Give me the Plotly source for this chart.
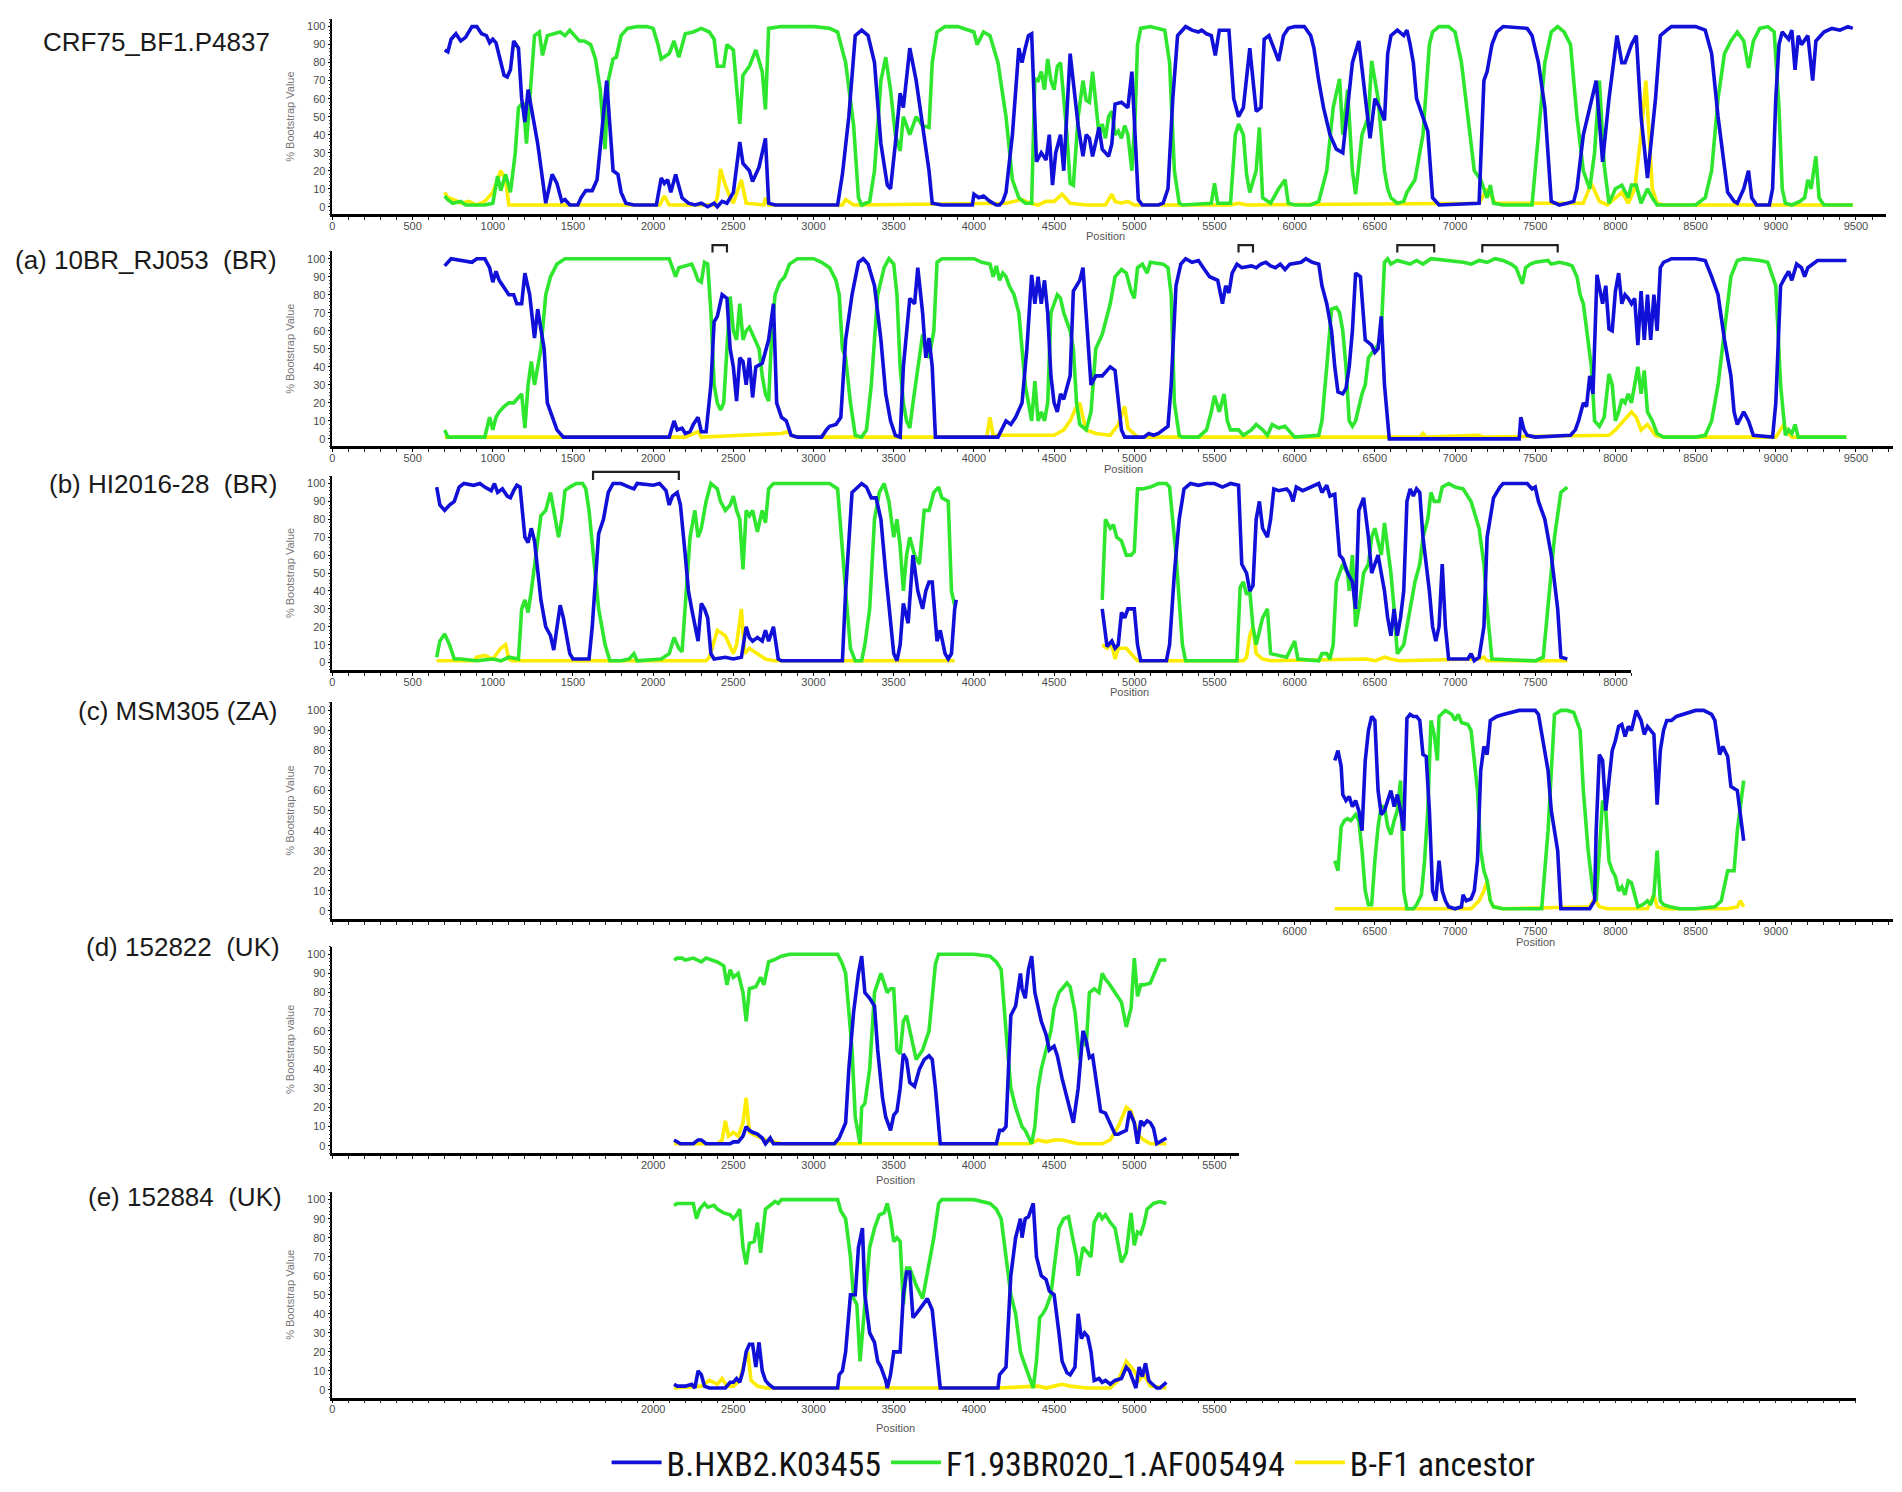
import plotly.graph_objects as go

# ---------------- data: (position, % bootstrap) ----------------
crf_B = [(700,87),(720,86),(740,93),(770,96),(800,92),(830,94),(870,100),(900,100),(930,96),(960,95),(980,91),(1000,93),(1020,91),(1050,81),(1070,73),(1090,72),(1110,76),(1130,92),(1160,88),(1180,60),(1200,47),(1220,65),(1250,50),(1280,35),(1300,22),(1330,2),(1370,18),(1400,13),(1430,3),(1450,4),(1480,1),(1530,1),(1550,5),(1580,9),(1620,9),(1650,15),(1680,42),(1710,70),(1730,45),(1750,20),(1780,18),(1800,8),(1830,2),(1880,1),(2020,1),(2050,16),(2070,13),(2090,15),(2110,8),(2140,18),(2180,5),(2220,2),(2260,1),(2300,2),(2340,0),(2380,2),(2400,0),(2430,3),(2460,2),(2500,8),(2540,36),(2560,24),(2600,20),(2620,14),(2660,22),(2700,38),(2720,2),(2760,1),(3150,1),(3180,18),(3220,50),(3260,95),(3300,98),(3340,95),(3380,80),(3420,35),(3460,12),(3480,10),(3510,35),(3540,63),(3560,55),(3600,88),(3640,70),(3680,45),(3720,20),(3740,2),(3800,1),(3990,1),(4000,7),(4030,5),(4060,6),(4100,3),(4140,1),(4160,1),(4180,3),(4200,8),(4240,40),(4280,88),(4300,80),(4320,88),(4340,95),(4360,96),(4390,25),(4420,30),(4450,26),(4470,40),(4490,12),(4510,30),(4540,40),(4560,20),(4600,85),(4650,45),(4680,28),(4700,40),(4720,38),(4740,28),(4780,44),(4800,32),(4840,28),(4860,35),(4880,57),(4920,58),(4960,55),(4985,75),(5005,40),(5025,4),(5050,1),(5150,1),(5180,2),(5210,10),(5240,60),(5270,95),(5300,98),(5320,100),(5360,98),(5400,97),(5420,98),(5450,96),(5480,95),(5505,84),(5530,98),(5590,98),(5620,60),(5650,50),(5680,55),(5720,88),(5760,53),(5790,55),(5810,93),(5840,95),(5870,88),(5900,81),(5930,95),(5960,99),(6000,100),(6060,100),(6100,95),(6120,88),(6150,70),(6180,55),(6220,40),(6260,32),(6300,30),(6330,57),(6360,80),(6400,92),(6440,60),(6470,38),(6500,60),(6530,55),(6560,48),(6580,85),(6600,95),(6640,98),(6680,95),(6700,98),(6720,90),(6740,80),(6760,60),(6800,50),(6830,42),(6860,5),(6900,1),(7150,2),(7180,70),(7200,75),(7230,90),(7260,97),(7300,100),(7450,99),(7480,95),(7520,80),(7560,55),(7600,3),(7650,1),(7700,2),(7740,3),(7760,10),(7800,40),(7880,70),(7920,25),(7960,60),(8010,95),(8040,80),(8060,80),(8100,90),(8130,95),(8160,50),(8200,16),(8250,60),(8280,95),(8320,98),(8350,100),(8500,100),(8560,98),(8600,85),(8640,50),(8700,8),(8740,3),(8760,2),(8800,10),(8830,20),(8850,5),(8880,1),(8960,1),(8980,10),(9000,60),(9020,90),(9040,97),(9060,95),(9080,93),(9100,98),(9120,76),(9140,95),(9160,90),(9200,95),(9230,70),(9250,92),(9300,97),(9350,99),(9400,98),(9450,100),(9480,99)]
crf_F = [(700,6),(720,4),(750,2),(800,3),(830,1),(950,1),(1000,2),(1030,17),(1050,9),(1080,18),(1110,8),(1140,30),(1160,55),(1190,58),(1210,35),(1230,60),(1260,95),(1290,97),(1310,84),(1340,95),(1380,96),(1420,97),(1450,95),(1480,98),(1510,95),(1540,92),(1570,92),(1610,90),(1640,82),(1670,65),(1700,32),(1720,70),(1750,82),(1770,83),(1800,95),(1840,99),(1900,100),(1960,100),(2000,99),(2030,90),(2050,82),(2100,85),(2130,92),(2160,83),(2200,96),(2250,97),(2300,99),(2350,97),(2380,93),(2400,78),(2440,78),(2460,90),(2500,87),(2520,65),(2540,46),(2560,73),(2600,78),(2640,87),(2680,75),(2700,54),(2720,99),(2800,100),(3000,100),(3100,99),(3150,97),(3200,80),(3250,45),(3280,5),(3300,1),(3350,3),(3380,20),(3420,70),(3450,83),(3480,65),(3510,40),(3540,31),(3560,50),(3600,40),(3640,50),(3680,45),(3720,44),(3740,80),(3770,97),(3820,100),(3900,100),(4000,97),(4020,90),(4060,97),(4100,95),(4150,80),(4200,50),(4240,15),(4280,5),(4320,2),(4360,2),(4380,71),(4400,70),(4420,75),(4440,65),(4460,82),(4480,70),(4500,65),(4520,78),(4540,80),(4560,60),(4580,40),(4600,13),(4620,12),(4650,50),(4680,70),(4700,59),(4720,58),(4740,75),(4760,55),(4780,40),(4800,46),(4820,38),(4840,50),(4860,53),(4880,40),(4900,42),(4920,38),(4940,45),(4960,40),(4985,20),(5005,50),(5020,90),(5040,99),(5100,100),(5190,98),(5220,80),(5250,20),(5280,2),(5300,1),(5480,2),(5500,13),(5520,2),(5600,2),(5630,40),(5650,46),(5680,40),(5700,18),(5720,8),(5760,20),(5780,44),(5800,5),(5850,2),(5900,10),(5940,15),(5960,2),(6000,1),(6100,1),(6150,3),(6200,20),(6240,55),(6280,71),(6300,40),(6330,65),(6360,20),(6380,7),(6420,40),(6460,50),(6480,81),(6520,60),(6560,20),(6580,10),(6600,5),(6640,2),(6680,3),(6700,8),(6750,15),(6800,40),(6840,90),(6860,97),(6900,100),(6960,100),(7000,97),(7040,80),(7080,50),(7120,20),(7160,15),(7180,10),(7200,5),(7220,12),(7240,2),(7300,1),(7480,1),(7520,40),(7560,80),(7600,97),(7640,100),(7680,97),(7720,90),(7760,50),(7800,20),(7840,10),(7870,30),(7900,70),(7930,23),(7960,2),(8000,10),(8040,12),(8080,5),(8100,12),(8130,12),(8160,2),(8200,10),(8230,5),(8260,1),(8500,1),(8560,5),(8600,20),(8640,60),(8680,85),(8720,92),(8760,97),(8800,92),(8830,77),(8860,92),(8900,99),(8950,100),(8990,97),(9020,55),(9040,10),(9060,2),(9100,1),(9150,3),(9180,5),(9200,15),(9220,10),(9250,28),(9270,5),(9300,1),(9480,1)]
crf_A = [(700,8),(720,5),(760,4),(800,2),(850,3),(900,1),(950,3),(1000,8),(1050,20),(1080,15),(1100,1),(2040,1),(2070,6),(2100,1),(2380,1),(2400,5),(2420,21),(2450,12),(2480,5),(2500,2),(2550,15),(2580,2),(2690,1),(2700,5),(2720,1),(3180,1),(3200,4),(3250,1),(4200,2),(4250,3),(4300,4),(4350,2),(4400,1),(4450,3),(4500,3),(4550,7),(4600,2),(4700,1),(4820,1),(4860,7),(4880,3),(4920,2),(4960,3),(5000,1),(5600,1),(5650,2),(5700,1),(7150,2),(7200,10),(7250,2),(7800,2),(7850,13),(7900,3),(7950,1),(8000,5),(8040,8),(8080,2),(8120,10),(8160,40),(8190,70),(8210,40),(8230,10),(8260,2),(8300,1),(9480,1)]

a_B = [(700,96),(720,98),(740,100),(870,98),(900,100),(950,100),(980,95),(1000,87),(1020,93),(1040,88),(1070,84),(1100,80),(1130,80),(1150,75),(1180,75),(1200,92),(1230,80),(1260,56),(1280,72),(1300,60),(1320,50),(1340,20),(1370,12),(1400,5),(1440,1),(2100,1),(2130,10),(2150,5),(2180,6),(2200,3),(2230,4),(2250,8),(2280,12),(2300,4),(2330,4),(2360,30),(2380,65),(2400,68),(2430,80),(2460,78),(2480,50),(2500,40),(2520,21),(2540,45),(2560,43),(2580,30),(2600,45),(2620,23),(2640,40),(2680,42),(2720,55),(2750,75),(2770,20),(2800,12),(2830,10),(2860,2),(2900,1),(3050,1),(3080,5),(3100,7),(3140,8),(3170,12),(3200,55),(3240,80),(3280,98),(3310,100),(3340,97),(3380,85),(3420,55),(3450,25),(3480,10),(3510,2),(3540,1),(3560,40),(3600,78),(3630,75),(3650,95),(3680,70),(3700,45),(3720,56),(3740,40),(3760,1),(4150,1),(4170,5),(4200,10),(4230,8),(4260,12),(4300,20),(4330,50),(4360,91),(4380,75),(4400,90),(4420,75),(4440,88),(4460,70),(4480,35),(4500,20),(4520,15),(4540,25),(4560,22),(4580,28),(4600,35),(4620,82),(4640,85),(4660,88),(4680,95),(4700,70),(4730,30),(4760,35),(4800,35),(4850,40),(4880,38),(4920,5),(4940,1),(5060,1),(5090,3),(5120,2),(5150,3),(5180,5),(5210,7),(5230,30),(5260,85),(5290,97),(5320,100),(5360,98),(5400,99),(5430,95),(5470,90),(5520,88),(5550,75),(5570,85),(5590,81),(5610,92),(5640,97),(5670,95),(5730,96),(5760,95),(5790,97),(5820,98),(5850,96),(5880,95),(5910,97),(5940,94),(5970,97),(6040,98),(6070,100),(6110,98),(6150,97),(6170,85),(6200,75),(6230,60),(6250,40),(6270,26),(6300,25),(6320,28),(6340,40),(6360,60),(6380,92),(6410,90),(6440,55),(6480,52),(6500,48),(6520,50),(6540,68),(6560,30),(6590,0),(7400,0),(7410,12),(7430,5),(7450,2),(7500,1),(7720,2),(7750,5),(7770,10),(7800,20),(7820,18),(7840,35),(7860,25),(7885,91),(7920,75),(7940,85),(7960,61),(7980,60),(8000,82),(8020,92),(8040,75),(8060,80),(8080,78),(8100,75),(8120,78),(8140,52),(8160,82),(8180,55),(8200,80),(8220,55),(8240,80),(8260,60),(8280,95),(8300,98),(8350,100),(8500,100),(8560,99),(8600,90),(8640,80),(8680,55),(8720,35),(8740,15),(8760,8),(8800,15),(8830,10),(8860,2),(8980,1),(9000,20),(9030,85),(9060,90),(9080,93),(9100,88),(9130,97),(9160,95),(9180,90),(9200,95),(9260,99),(9440,99)]
a_F = [(700,5),(720,1),(950,1),(980,12),(1000,5),(1020,12),(1040,15),(1070,18),(1100,20),(1130,20),(1150,22),(1180,25),(1200,6),(1220,30),(1240,43),(1260,30),(1280,40),(1300,50),(1330,80),(1360,90),(1400,97),(1420,98),(1450,100),(2100,100),(2120,95),(2140,90),(2160,95),(2200,96),(2240,97),(2260,93),(2280,88),(2300,87),(2320,98),(2340,97),(2360,70),(2380,30),(2400,20),(2420,16),(2440,20),(2460,50),(2480,79),(2500,60),(2520,55),(2540,75),(2560,55),(2580,60),(2600,62),(2620,58),(2660,50),(2680,35),(2700,25),(2720,21),(2740,60),(2760,80),(2790,87),(2820,90),(2850,97),(2900,100),(3000,100),(3050,98),(3100,95),(3140,88),(3160,80),(3180,50),(3200,45),(3230,20),(3260,2),(3300,1),(3330,5),(3360,30),(3400,80),(3440,95),(3470,100),(3500,97),(3520,80),(3540,40),(3560,20),(3580,10),(3600,6),(3620,20),(3650,40),(3680,58),(3700,50),(3720,45),(3750,60),(3770,98),(3800,100),(4000,100),(4050,98),(4100,97),(4120,90),(4140,96),(4160,88),(4180,92),(4200,90),(4220,85),(4250,80),(4280,70),(4300,50),(4320,30),(4340,20),(4360,10),(4380,32),(4400,10),(4420,15),(4440,10),(4460,20),(4480,70),(4500,75),(4520,80),(4540,78),(4560,70),(4580,65),(4600,60),(4620,50),(4640,20),(4660,8),(4700,5),(4730,15),(4760,50),(4800,58),(4850,75),(4880,90),(4920,94),(4950,92),(4980,82),(5000,78),(5020,95),(5050,97),(5080,92),(5100,98),(5180,97),(5210,95),(5230,80),(5250,20),(5280,2),(5300,1),(5400,1),(5450,5),(5480,15),(5500,24),(5530,15),(5560,25),(5580,10),(5600,5),(5650,5),(5680,2),(5700,3),(5730,5),(5760,8),(5800,5),(5830,2),(5860,8),(5900,6),(5940,7),(5960,5),(6000,1),(6150,2),(6170,10),(6200,40),(6230,72),(6260,73),(6280,70),(6300,60),(6320,40),(6340,10),(6360,7),(6380,10),(6420,25),(6440,30),(6460,45),(6500,50),(6520,52),(6540,60),(6560,98),(6580,100),(6600,97),(6640,99),(6680,98),(6720,97),(6760,99),(6800,97),(6850,100),(6950,99),(7000,99),(7050,98),(7100,97),(7150,99),(7200,98),(7250,100),(7300,99),(7350,97),(7380,95),(7400,90),(7420,86),(7440,95),(7470,97),(7500,98),(7580,99),(7600,97),(7650,98),(7700,97),(7730,96),(7760,90),(7780,80),(7800,75),(7820,60),(7850,40),(7870,10),(7900,7),(7930,12),(7960,36),(7980,30),(8000,10),(8020,15),(8040,22),(8060,20),(8080,25),(8100,20),(8120,30),(8140,40),(8160,25),(8180,38),(8200,15),(8230,10),(8260,3),(8300,1),(8500,1),(8560,2),(8600,10),(8640,30),(8680,60),(8720,90),(8760,99),(8800,100),(8900,99),(8950,98),(9000,85),(9030,30),(9060,2),(9080,5),(9100,3),(9120,8),(9140,1),(9440,1)]
a_A = [(700,1),(2200,1),(2280,4),(2300,1),(2800,3),(2840,4),(2860,2),(2900,1),(4080,1),(4100,12),(4120,2),(4500,2),(4560,5),(4600,10),(4640,18),(4660,20),(4680,12),(4700,5),(4760,3),(4850,2),(4900,8),(4940,18),(4960,6),(5000,3),(5020,1),(6780,1),(6800,3),(6820,1),(7150,2),(7170,1),(7960,2),(8000,5),(8050,10),(8100,15),(8130,12),(8160,5),(8200,8),(8250,2),(8300,1),(9000,1),(9050,8),(9080,3),(9100,1),(9440,1)]

b_B1 = [(650,98),(670,88),(700,85),(730,88),(760,90),(790,98),(820,100),(880,99),(920,100),(950,98),(990,96),(1010,100),(1030,95),(1060,97),(1090,93),(1110,92),(1130,96),(1150,99),(1170,98),(1200,70),(1220,67),(1240,75),(1260,68),(1280,50),(1300,35),(1330,20),(1360,15),(1380,7),(1400,18),(1420,32),(1440,25),(1460,15),(1480,5),(1500,2),(1600,2),(1620,20),(1660,72),(1690,80),(1720,95),(1750,100),(1800,100),(1850,98),(1880,97),(1900,100),(2000,99),(2040,100),(2080,96),(2100,88),(2120,93),(2150,95),(2170,88),(2200,60),(2220,40),(2240,30),(2260,20),(2280,12),(2300,33),(2320,30),(2340,25),(2360,5),(2380,2),(2450,3),(2500,2),(2550,3),(2580,20),(2600,14),(2620,12),(2650,14),(2680,12),(2700,18),(2720,12),(2750,20),(2780,2),(2800,1),(3180,1),(3200,40),(3240,95),(3280,98),(3300,100),(3330,98),(3360,92),(3390,92),(3420,80),(3450,50),(3480,20),(3500,5),(3520,1),(3540,10),(3560,33),(3590,22),(3620,60),(3650,40),(3680,30),(3700,40),(3720,45),(3740,45),(3770,12),(3790,18),(3820,5),(3840,2),(3860,5),(3880,30),(3890,35)]
b_F1 = [(650,3),(670,12),(700,16),(730,10),(760,2),(800,2),(900,1),(1000,2),(1050,1),(1100,3),(1160,2),(1180,30),(1200,35),(1220,28),(1240,40),(1270,60),(1300,82),(1330,85),(1360,95),(1380,85),(1410,70),(1430,80),(1450,96),(1480,98),(1520,100),(1560,100),(1580,97),(1600,85),(1640,50),(1660,30),(1700,10),(1730,1),(1800,1),(1850,2),(1880,5),(1900,1),(2050,2),(2100,5),(2130,14),(2160,8),(2180,6),(2200,30),(2230,70),(2260,85),(2280,70),(2300,75),(2330,90),(2360,100),(2400,97),(2420,90),(2450,85),(2480,88),(2500,93),(2520,85),(2540,80),(2560,52),(2580,85),(2600,82),(2620,85),(2650,73),(2680,85),(2700,78),(2720,97),(2750,100),(3100,100),(3150,97),(3180,60),(3200,40),(3230,8),(3260,1),(3300,1),(3320,10),(3350,30),(3380,80),(3410,95),(3440,100),(3470,90),(3500,70),(3520,80),(3540,65),(3560,40),(3580,60),(3600,70),(3630,60),(3660,55),(3690,85),(3720,85),(3750,95),(3780,98),(3800,92),(3840,90),(3860,40),(3880,32)]
b_A1 = [(650,1),(880,1),(900,3),(950,4),(1000,2),(1050,8),(1080,10),(1100,2),(1120,1),(2330,1),(2350,3),(2400,18),(2450,15),(2500,5),(2520,10),(2550,30),(2570,5),(2600,8),(2650,5),(2700,2),(2750,1),(3880,1)]
b_B2 = [(4800,30),(4830,9),(4860,12),(4880,8),(4900,10),(4920,28),(4940,25),(4960,30),(5000,30),(5020,10),(5040,1),(5200,1),(5220,10),(5250,50),(5280,80),(5310,97),(5350,100),(5400,99),(5450,100),(5500,100),(5550,98),(5600,100),(5650,99),(5670,55),(5700,50),(5720,40),(5740,43),(5760,80),(5780,90),(5800,75),(5830,70),(5850,80),(5870,97),(5900,96),(5950,97),(5970,95),(5990,90),(6010,98),(6050,96),(6100,98),(6150,100),(6170,95),(6200,99),(6220,93),(6250,94),(6280,60),(6300,58),(6330,50),(6360,45),(6380,30),(6400,85),(6430,92),(6460,70),(6480,50),(6500,55),(6520,60),(6540,50),(6560,40),(6580,25),(6600,15),(6620,30),(6640,15),(6660,25),(6680,40),(6700,90),(6720,97),(6740,93),(6760,97),(6780,95),(6800,70),(6840,40),(6860,20),(6880,12),(6900,20),(6920,55),(6940,20),(6960,2),(7080,2),(7100,5),(7120,1),(7150,3),(7180,20),(7200,70),(7240,92),(7280,98),(7300,100),(7450,100),(7480,97),(7500,98),(7520,90),(7560,80),(7600,60),(7640,30),(7660,3),(7700,2)]
b_F2 = [(4800,35),(4820,80),(4850,75),(4870,77),(4890,70),(4920,68),(4950,60),(4980,60),(5000,62),(5020,97),(5050,97),(5100,98),(5150,100),(5200,100),(5220,98),(5260,60),(5300,10),(5320,1),(5640,1),(5660,42),(5680,45),(5700,38),(5720,40),(5740,20),(5760,10),(5800,25),(5830,30),(5850,5),(5950,3),(6000,12),(6020,2),(6150,1),(6170,5),(6200,5),(6220,2),(6240,10),(6260,45),(6300,55),(6330,50),(6340,40),(6360,60),(6380,20),(6400,30),(6430,50),(6460,55),(6480,70),(6500,75),(6540,60),(6560,78),(6580,65),(6600,50),(6620,30),(6640,5),(6680,10),(6700,20),(6720,30),(6750,45),(6780,55),(6800,70),(6830,80),(6850,95),(6870,90),(6900,90),(6920,98),(6960,100),(7000,98),(7050,97),(7100,90),(7150,75),(7180,55),(7200,30),(7230,2),(7500,1),(7550,3),(7580,30),(7620,70),(7660,95),(7700,98)]
b_A2 = [(4800,10),(4830,8),(4860,10),(4880,2),(4900,8),(4950,8),(5000,3),(5020,1),(5680,1),(5700,3),(5720,15),(5740,20),(5760,5),(5800,2),(5850,1),(6450,2),(6500,1),(6560,3),(6600,2),(6650,1),(7150,2),(7180,3),(7200,1),(7700,1)]

c_B = [(6250,75),(6270,80),(6290,72),(6300,58),(6320,55),(6340,57),(6360,52),(6380,55),(6400,50),(6420,40),(6440,75),(6460,90),(6480,97),(6500,95),(6520,60),(6540,48),(6560,50),(6580,55),(6600,60),(6620,52),(6640,58),(6660,50),(6680,40),(6700,96),(6720,98),(6740,97),(6760,97),(6780,95),(6800,78),(6820,77),(6840,50),(6860,10),(6880,5),(6900,25),(6920,10),(6940,5),(6960,2),(7000,1),(7040,2),(7050,8),(7070,5),(7100,6),(7120,10),(7140,25),(7160,70),(7180,82),(7200,78),(7220,95),(7260,97),(7300,98),(7350,99),(7400,100),(7500,100),(7520,98),(7580,70),(7600,50),(7640,30),(7660,1),(7840,1),(7870,5),(7880,40),(7900,78),(7920,75),(7940,50),(7960,65),(7980,80),(8000,85),(8020,92),(8040,93),(8060,87),(8080,92),(8100,90),(8130,100),(8160,95),(8180,88),(8200,92),(8240,88),(8260,53),(8280,80),(8300,90),(8320,95),(8350,95),(8380,97),(8450,99),(8500,100),(8550,100),(8600,98),(8620,95),(8650,78),(8670,82),(8700,77),(8720,62),(8760,60),(8800,35)]
c_F = [(6250,25),(6270,20),(6290,42),(6310,45),(6330,46),(6350,45),(6380,48),(6400,45),(6420,30),(6440,10),(6460,3),(6480,3),(6500,25),(6520,42),(6540,52),(6560,52),(6580,42),(6600,38),(6620,45),(6640,50),(6660,65),(6680,10),(6700,1),(6740,1),(6760,3),(6790,8),(6810,25),(6830,50),(6850,95),(6870,88),(6890,75),(6900,97),(6940,100),(6980,98),(7000,95),(7020,98),(7040,94),(7080,93),(7100,90),(7140,60),(7160,30),(7180,20),(7200,15),(7220,5),(7240,2),(7300,1),(7540,1),(7580,40),(7620,98),(7660,100),(7700,100),(7740,99),(7780,90),(7800,60),(7830,30),(7860,10),(7880,5),(7900,30),(7920,55),(7940,50),(7960,25),(7980,20),(8000,17),(8020,10),(8040,12),(8060,8),(8080,15),(8100,14),(8120,8),(8140,2),(8170,3),(8200,5),(8220,3),(8240,8),(8260,30),(8280,5),(8300,3),(8340,2),(8400,1),(8500,1),(8620,2),(8660,5),(8700,20),(8740,20),(8760,40),(8800,65)]
c_A = [(6250,1),(7100,1),(7150,5),(7180,10),(7200,15),(7220,5),(7240,2),(7300,1),(7840,2),(7870,6),(7900,2),(7950,1),(8200,1),(8220,5),(8240,8),(8260,2),(8300,1),(8700,1),(8760,2),(8780,5),(8800,2)]

d_B = [(2130,3),(2150,2),(2170,1),(2250,1),(2280,3),(2300,3),(2330,1),(2480,1),(2500,2),(2530,2),(2560,5),(2580,10),(2600,8),(2620,7),(2650,6),(2680,4),(2700,1),(2730,4),(2750,1),(3130,1),(3160,4),(3200,12),(3220,40),(3250,70),(3280,90),(3300,99),(3320,80),(3350,77),(3380,73),(3400,50),(3430,25),(3450,15),(3480,8),(3500,16),(3520,18),(3540,30),(3560,48),(3580,45),(3600,33),(3630,31),(3660,40),(3690,45),(3720,47),(3740,45),(3760,30),(3790,1),(4140,1),(4160,8),(4180,8),(4200,10),(4230,68),(4260,73),(4290,90),(4300,82),(4320,77),(4340,92),(4360,99),(4380,80),(4420,65),(4450,58),(4470,50),(4500,52),(4520,47),(4550,35),(4580,25),(4600,20),(4620,12),(4650,30),(4680,60),(4700,55),(4720,46),(4740,47),(4760,34),(4790,18),(4820,17),(4850,12),(4880,6),(4900,6),(4950,8),(4970,18),(5000,12),(5020,1),(5040,13),(5060,11),(5080,13),(5100,12),(5120,9),(5140,1),(5160,2),(5200,4)]
d_F = [(2130,97),(2150,98),(2180,98),(2200,97),(2250,98),(2300,96),(2330,98),(2360,97),(2400,96),(2440,94),(2460,84),(2480,92),(2500,88),(2530,90),(2560,80),(2580,65),(2600,82),(2640,83),(2670,88),(2690,84),(2720,96),(2750,97),(2800,99),(2850,100),(3150,100),(3180,95),(3200,90),(3240,50),(3260,15),(3290,1),(3300,20),(3320,22),(3350,40),(3380,80),(3420,90),(3460,80),(3480,82),(3500,82),(3520,50),(3540,48),(3560,65),(3580,68),(3600,60),(3620,52),(3640,45),(3680,50),(3720,60),(3760,95),(3780,100),(4000,100),(4100,99),(4140,96),(4170,92),(4200,60),(4230,30),(4260,20),(4280,15),(4300,10),(4320,8),(4350,2),(4360,1),(4380,10),(4400,30),(4420,40),(4450,50),(4480,60),(4500,72),(4530,80),(4550,82),(4580,85),(4600,83),(4630,70),(4660,45),(4680,58),(4700,52),(4720,80),(4750,82),(4780,80),(4800,90),(4820,87),(4840,85),(4880,80),(4920,75),(4950,62),(4980,72),(5000,98),(5020,78),(5040,84),(5060,84),(5100,85),(5140,93),(5160,97),(5200,97)]
d_A = [(2130,1),(2400,1),(2430,3),(2450,13),(2470,5),(2500,7),(2530,5),(2560,12),(2580,25),(2600,7),(2620,6),(2650,5),(2700,3),(2750,2),(2800,1),(4350,1),(4400,3),(4450,2),(4500,3),(4550,3),(4600,2),(4650,1),(4800,1),(4850,3),(4900,10),(4950,20),(4980,18),(5000,12),(5030,5),(5060,3),(5100,1),(5200,1)]

e_B = [(2130,3),(2150,2),(2200,2),(2240,3),(2260,1),(2280,10),(2300,8),(2320,2),(2350,1),(2450,1),(2480,4),(2500,4),(2520,6),(2540,4),(2560,10),(2580,20),(2600,24),(2620,24),(2640,12),(2660,25),(2680,10),(2700,5),(2720,3),(2750,1),(3150,1),(3160,8),(3180,10),(3200,20),(3230,50),(3260,50),(3280,75),(3305,85),(3320,50),(3350,30),(3380,25),(3400,15),(3420,12),(3450,5),(3460,1),(3480,8),(3500,20),(3540,20),(3560,50),(3580,62),(3600,62),(3620,38),(3640,40),(3680,45),(3710,48),(3740,42),(3760,25),(3790,1),(4150,1),(4160,8),(4180,10),(4200,12),(4230,60),(4260,80),(4290,90),(4300,80),(4320,90),(4340,91),(4370,98),(4390,70),(4420,60),(4450,58),(4470,52),(4500,50),(4530,30),(4550,15),(4580,9),(4600,8),(4630,12),(4650,40),(4670,27),(4690,30),(4710,28),(4730,20),(4750,5),(4780,6),(4800,4),(4820,5),(4850,3),(4880,5),(4920,6),(4950,12),(4970,10),(5000,4),(5010,1),(5030,12),(5050,7),(5070,14),(5090,5),(5100,4),(5140,1),(5160,1),(5200,4)]
e_F = [(2130,97),(2150,98),(2250,98),(2270,90),(2290,95),(2320,98),(2340,96),(2380,97),(2400,95),(2440,93),(2480,92),(2500,90),(2520,92),(2540,95),(2560,75),(2580,66),(2600,77),(2630,78),(2650,88),(2670,72),(2700,95),(2730,97),(2760,99),(2780,98),(2800,100),(3150,100),(3170,94),(3200,90),(3230,70),(3250,48),(3270,45),(3290,15),(3320,45),(3350,75),(3380,85),(3410,92),(3440,93),(3460,98),(3480,90),(3500,78),(3520,80),(3540,78),(3560,45),(3580,64),(3600,64),(3640,55),(3680,48),(3720,65),(3750,80),(3780,98),(3800,100),(4000,100),(4100,98),(4140,95),(4170,90),(4200,70),(4230,50),(4260,40),(4290,20),(4310,15),(4350,5),(4370,1),(4390,15),(4410,38),(4430,40),(4450,43),(4480,50),(4500,65),(4530,85),(4560,90),(4590,91),(4620,78),(4640,70),(4650,60),(4680,75),(4700,73),(4730,70),(4750,88),(4780,93),(4800,90),(4820,92),(4850,88),(4880,85),(4920,67),(4950,72),(4980,93),(5000,76),(5020,83),(5040,82),(5060,87),(5080,95),(5120,98),(5160,99),(5200,98)]
e_A = [(2130,1),(2300,2),(2350,5),(2400,3),(2430,6),(2460,2),(2500,2),(2540,5),(2570,15),(2590,20),(2610,5),(2650,2),(2700,1),(4150,1),(4400,2),(4450,1),(4500,2),(4550,3),(4600,2),(4700,1),(4850,1),(4900,5),(4950,15),(4980,12),(5000,10),(5030,5),(5060,8),(5100,2),(5200,1)]

series_names = ["B.HXB2.K03455", "F1.93BR020_1.AF005494", "B-F1 ancestor"]
panel_labels = ["CRF75_BF1.P4837", "(a) 10BR_RJ053\u00a0\u00a0(BR)", "(b) HI2016-28\u00a0\u00a0(BR)",
                "(c) MSM305 (ZA)", "(d) 152822\u00a0\u00a0(UK)", "(e) 152884\u00a0\u00a0(UK)"]
ytitles = ["% Bootstrap Value"] * 4 + ["% Bootstrap value", "% Bootstrap Value"]
x_ticks = [list(range(0, 9501, 500)), list(range(0, 9501, 500)), list(range(0, 8001, 500)),
           list(range(6000, 9001, 500)), list(range(2000, 5501, 500)), [0] + list(range(2000, 5501, 500))]
axis_end = [9690, 9730, 8100, 9730, 5650, 9500]
brackets_a = [(2370, 2460), (5650, 5740), (6640, 6870), (7170, 7640)]
brackets_b = [(1625, 2160)]
bracket_lvls_a = (103.5, 107.5)
bracket_lvls_b = (102.0, 106.5)
y_ticks = list(range(0, 101, 10))

COLORS = ["#1010d8", "#2ee62e", "#fcec00"]

# ---------------- layout geometry ----------------
# positions measured on the reference at 1568 px display width; the page body
# adds an 8 px margin, so the figure is 8 px smaller and positions are shifted.
S = 1902 / 1568.0
OFF = 8
FW, FH = 1902 - OFF, 1492 - OFF
UNIT = (1530 - 272) / 9500.0          # display px per sequence position


def px(xd):
    return (xd * S - OFF) / FW


def py(yd):
    return 1 - (yd * S - OFF) / FH


X0D = 272
panel_px = [(177, 16), (369, 208), (554, 394), (760, 581), (954, 783), (1156, 986)]
label_y = [35, 215, 400, 588, 783, 990]
label_xr = [222, 228, 228, 228, 230, 232]
pos_lbl = [(910, 195), (925, 388), (930, 572), (1265, 779), (737, 976), (737, 1181)]
YR = (-4, 104)


def split(pairs):
    return [p[0] for p in pairs], [p[1] for p in pairs]


def joined(*segs):
    xs, ys = [], []
    for i, s in enumerate(segs):
        if i:
            xs.append(None); ys.append(None)
        x, y = split(s)
        xs += x; ys += y
    return xs, ys


panels = [
    (split(crf_B), split(crf_F), split(crf_A)),
    (split(a_B), split(a_F), split(a_A)),
    (joined(b_B1, b_B2), joined(b_F1, b_F2), joined(b_A1, b_A2)),
    (split(c_B), split(c_F), split(c_A)),
    (split(d_B), split(d_F), split(d_A)),
    (split(e_B), split(e_F), split(e_A)),
]

fig = go.Figure()
annotations = []
shapes = []
tickfont = dict(family="Liberation Sans, Arial", size=11, color="#4a4a4a")
ydoms = []
xdoms = []

for i, (sB, sF, sA) in enumerate(panels):
    n = i + 1
    xa = "x" if n == 1 else f"x{n}"
    ya = "y" if n == 1 else f"y{n}"
    for k, (xs, ys) in [(2, sA), (1, sF), (0, sB)]:
        fig.add_trace(go.Scatter(
            x=xs, y=ys, mode="lines", xaxis=xa, yaxis=ya,
            line=dict(color=COLORS[k], width=3.6),
            name=series_names[k], legendgroup=series_names[k],
            showlegend=(n == 1), legendrank=k + 1, connectgaps=False,
            hoverinfo="skip"))
    bot, top = panel_px[i]
    ydom = [py(bot), py(top)]
    xdom = [px(X0D), px(X0D + axis_end[i] * UNIT)]
    ydoms.append(ydom)
    xdoms.append(xdom)
    fig.layout[("xaxis" if n == 1 else f"xaxis{n}")] = dict(
        domain=xdom, range=[0, axis_end[i]], anchor=ya,
        showline=True, linewidth=2.5, linecolor="black",
        ticks="outside", ticklen=3, tickwidth=1, tickcolor="black",
        tickvals=x_ticks[i], ticktext=[str(v) for v in x_ticks[i]], tickfont=tickfont,
        ticklabelstandoff=-3,
        showgrid=False, zeroline=False, fixedrange=True,
        minor=dict(dtick=100, ticks="outside", ticklen=3, tickcolor="#222", tickwidth=1))
    fig.layout[("yaxis" if n == 1 else f"yaxis{n}")] = dict(
        domain=ydom, range=list(YR), anchor=xa,
        showline=True, linewidth=1.5, linecolor="black",
        ticks="outside", ticklen=3, tickwidth=1, tickcolor="black",
        tickvals=y_ticks, tickfont=tickfont, ticklabelstandoff=0,
        showgrid=False, zeroline=False, fixedrange=True,
        minor=dict(dtick=2, ticks="outside", ticklen=2, tickcolor="#333", tickwidth=1))
    annotations.append(dict(text=panel_labels[i], x=px(label_xr[i]), y=py(label_y[i]),
                            xref="paper", yref="paper", xanchor="right", yanchor="middle",
                            showarrow=False, font=dict(family="Liberation Sans, Arial", size=26, color="#1a1a1a")))
    annotations.append(dict(text=ytitles[i], x=px(237), y=(ydom[0] + ydom[1]) / 2,
                            xref="paper", yref="paper", xanchor="center", yanchor="middle",
                            textangle=-90, showarrow=False,
                            font=dict(family="Liberation Sans, Arial", size=11, color="#777")))
    lx, ly = pos_lbl[i]
    annotations.append(dict(text="Position", x=px(lx), y=py(ly),
                            xref="paper", yref="paper", xanchor="center", yanchor="middle",
                            showarrow=False, font=dict(family="Liberation Sans, Arial", size=11, color="#555")))


def to_paper(panel, xv, yv):
    xd, yd = xdoms[panel], ydoms[panel]
    xp = xd[0] + xv / axis_end[panel] * (xd[1] - xd[0])
    ypp = yd[0] + (yv - YR[0]) / (YR[1] - YR[0]) * (yd[1] - yd[0])
    return xp, ypp


for panel, brs, (lo, hi) in [(1, brackets_a, bracket_lvls_a), (2, brackets_b, bracket_lvls_b)]:
    for (s, e) in brs:
        x1, y1 = to_paper(panel, s, lo)
        _, y2 = to_paper(panel, s, hi)
        x2, _ = to_paper(panel, e, lo)
        shapes.append(dict(type="path", xref="paper", yref="paper",
                           path=f"M {x1},{y1} L {x1},{y2} L {x2},{y2} L {x2},{y1}",
                           line=dict(color="#222", width=2.2)))

fig.update_layout(
    width=FW, height=FH, margin=dict(l=0, r=0, t=0, b=0),
    paper_bgcolor="white", plot_bgcolor="white",
    annotations=annotations, shapes=shapes,
    showlegend=True,
    legend=dict(orientation="h", x=px(884), xanchor="center", y=py(1210), yanchor="middle",
                font=dict(family="Liberation Sans Narrow, Roboto Condensed, Liberation Sans, Arial", size=34, color="#111"),
                bgcolor="rgba(0,0,0,0)", itemwidth=50, traceorder="normal"),
)

fig.write_html("out.html")
